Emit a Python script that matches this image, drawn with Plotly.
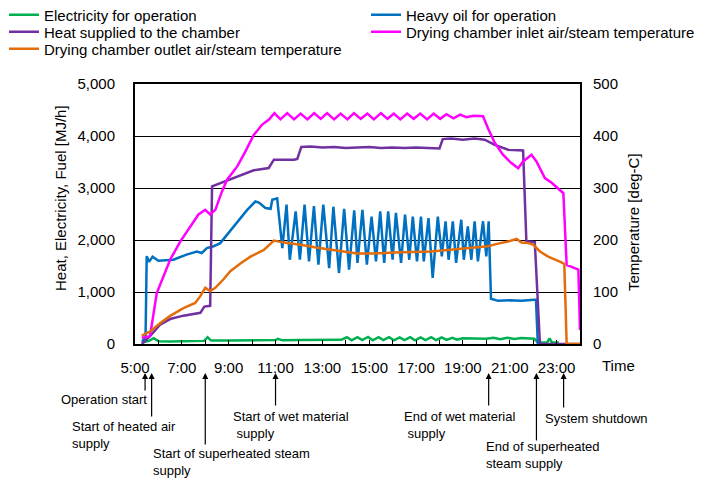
import plotly.graph_objects as go

# ---------------- data (hours of day) ----------------
elec_t = [5.29, 5.6, 5.8, 6.0, 6.5, 7.0, 7.5, 7.95, 8.1, 8.25, 9.0, 10.0, 11.0, 11.1, 11.3,
          12.0, 13.0, 13.8, 14.05, 14.25, 14.5, 14.7, 14.95, 15.15, 15.4, 15.6, 15.85, 16.05,
          16.3, 16.5, 16.75, 16.95, 17.2, 17.4, 17.65, 17.85, 18.1, 18.3, 18.55, 18.75, 19.0,
          19.5, 20.0, 20.3, 20.6, 20.9, 21.2, 21.5, 21.8, 22.05, 22.2, 22.6, 22.7, 22.8, 23.1]
elec_v = [30, 60, 110, 55, 50, 50, 55, 60, 130, 65, 65, 70, 75, 100, 70,
          75, 75, 80, 130, 70, 130, 75, 135, 70, 130, 75, 130, 70,
          125, 75, 130, 70, 125, 75, 130, 75, 125, 80, 120, 85, 110,
          110, 100, 120, 90, 120, 95, 115, 100, 100, 30, 30, 110, 30, 30]

oil_t = [5.30, 5.45, 5.50, 5.60, 5.75, 6.00, 6.64, 7.20, 7.64, 7.85, 8.07, 8.36, 8.64, 8.93,
         9.36, 9.79, 10.14, 10.29, 10.57, 10.79, 10.86, 11.07,
         11.29, 11.47, 11.61, 11.86, 12.04, 12.24, 12.43, 12.64, 12.83, 13.04, 13.29, 13.47,
         13.71, 13.93, 14.14, 14.36, 14.50, 14.71, 14.90, 15.10, 15.29, 15.47, 15.64, 15.81,
         16.00, 16.14, 16.36, 16.53, 16.71, 16.86, 17.04, 17.21, 17.33, 17.53, 17.71, 17.93,
         18.10, 18.26, 18.39, 18.57, 18.71, 18.93, 19.04, 19.21, 19.36, 19.50, 19.64, 19.86,
         20.00, 20.10, 20.20, 20.50, 21.00, 21.50, 22.05, 22.12, 22.20, 22.30]
oil_v = [50, 120, 1690, 1580, 1680, 1600, 1620, 1720, 1780, 1750, 1845, 1880, 1940, 2100,
         2325, 2580, 2740, 2720, 2615, 2600, 2775, 2800,
         1845, 2680, 1620, 2550, 1620, 2680, 1590, 2650, 1525, 2680, 1460, 2640,
         1365, 2600, 1430, 2570, 1560, 2580, 1525, 2450, 1590, 2550, 1560, 2550,
         1620, 2520, 1560, 2490, 1620, 2450, 1590, 2450, 1590, 2420, 1270, 2450,
         1685, 2360, 1620, 2360, 1560, 2390, 1620, 2260, 1620, 2360, 1590, 2360,
         1685, 2360, 870, 830, 840, 830, 850, 850, 0, 0]

heat_t = [5.29, 5.64, 6.07, 6.5, 7.07, 7.79, 7.96, 8.21, 8.29, 8.5, 9.07, 9.64, 10.07, 10.71,
          10.93, 11.79, 11.93, 12.1, 12.5, 13.0, 13.5, 14.0, 14.5, 15.0, 15.5, 16.0, 16.5,
          17.0, 17.5, 18.0, 18.14, 18.5, 19.0, 19.5, 19.93, 20.36, 20.93, 21.57, 21.71, 22.07,
          22.29, 24.0]
heat_v = [0, 150, 370, 480, 545, 600, 720, 735, 3030, 3065, 3170, 3255, 3340, 3385,
          3545, 3545, 3560, 3790, 3800, 3780, 3790, 3770, 3780, 3790, 3770, 3780, 3770,
          3780, 3770, 3760, 3940, 3950, 3930, 3950, 3930, 3830, 3735, 3720, 1975, 1960,
          0, 0]

inlet_t = [5.29, 5.64, 5.93, 6.21, 6.5, 6.93, 7.36, 7.71, 8.0, 8.21, 8.43, 8.71, 8.93, 9.36,
           9.71, 10.07, 10.43, 10.71, 10.95, 11.21, 11.5, 11.79, 12.07, 12.36, 12.65, 12.93,
           13.2, 13.5, 13.78, 14.07, 14.35, 14.64, 14.92, 15.2, 15.5, 15.78, 16.05, 16.33,
           16.62, 16.9, 17.18, 17.47, 17.75, 18.03, 18.3, 18.6, 18.88, 19.15, 19.45, 19.86,
           20.07, 20.36, 20.71, 21.07, 21.36, 21.57, 21.93, 22.14, 22.5, 22.79, 23.29, 23.43,
           23.93, 24.0]
inlet_v = [12, 15, 98, 130, 162, 197, 226, 249, 258, 249, 258, 293, 316, 341,
           370, 402, 422, 431, 444, 432, 444, 432, 443, 432, 444, 433, 444, 432, 443, 432,
           444, 433, 443, 432, 444, 433, 443, 432, 443, 433, 443, 432, 443, 433, 442, 434,
           441, 436, 439, 438,
           415, 387, 364, 348, 338, 351, 364, 351, 319, 310, 290, 152,
           143, 27]

outlet_t = [5.29, 5.64, 6.07, 6.5, 7.07, 7.57, 7.79, 8.0, 8.21, 8.43, 8.79, 9.07, 9.5, 9.93,
            10.5, 10.93, 11.36, 12.07, 12.79, 13.79, 14.5, 15.21, 16.07, 17.64, 18.36, 19.5,
            20.07, 20.5, 20.93, 21.29, 21.5, 21.79, 22.0, 22.29, 22.64, 23.21, 23.33, 23.43,
            24.0]
outlet_v = [16, 24, 40, 54, 69, 79, 92, 108, 102, 108, 125, 140, 155, 168,
            181, 199, 195, 191, 185, 178, 174, 174, 176, 178, 181, 187,
            188, 193, 197, 202, 195, 194, 191, 178, 168, 157, 154, 0,
            0]

series_names = ["Electricity for operation", "Heavy oil for operation",
                "Heat supplied to the chamber", "Drying chamber inlet air/steam temperature",
                "Drying chamber outlet air/steam temperature"]
series_colors = ["#00B050", "#0070C0", "#7030A0", "#FF00FF", "#E46C0A"]

x_tick_vals = [5, 7, 9, 11, 13, 15, 17, 19, 21, 23]
x_tick_labels = ["5:00", "7:00", "9:00", "11:00", "13:00", "15:00", "17:00", "19:00", "21:00", "23:00"]
y_tick_vals = [0, 1000, 2000, 3000, 4000, 5000]
y_tick_labels = ["0", "1,000", "2,000", "3,000", "4,000", "5,000"]
y2_tick_vals = [0, 100, 200, 300, 400, 500]
y2_tick_labels = ["0", "100", "200", "300", "400", "500"]

event_labels = ["Operation start", "Start of heated air<br>supply",
                "Start of superheated steam<br>supply", "Start of wet material<br>\u00a0supply",
                "End of wet material<br>\u00a0supply", "End of superheated<br>steam supply",
                "System shutdown"]
event_times = [5.43, 5.71, 8.0, 11.0, 20.1, 22.14, 23.3]

# ---------------- layout geometry (pixels) ----------------
W, H = 710, 480
L, R, T, B = 135, 580, 84, 344
FONT = "Liberation Sans, Arial, sans-serif"


def px(x):
    return (x - L) / (R - L)


def py(y):
    return (B - y) / (B - T)


fig = go.Figure()
data = [(elec_t, elec_v, "y"), (oil_t, oil_v, "y"), (heat_t, heat_v, "y"),
        (inlet_t, inlet_v, "y2"), (outlet_t, outlet_v, "y2")]
legend_ids = ["legend", "legend2", "legend3", "legend4", "legend5"]
legend_pos = [(4, 15), (366, 15), (4, 32), (366, 32), (4, 49)]
for (t, v, ax), name, col, lg in zip(data, series_names, series_colors, legend_ids):
    assert len(t) == len(v), name
    fig.add_trace(go.Scatter(x=t, y=v, name=name, mode="lines", yaxis=ax, legend=lg,
                             line=dict(color=col, width=2.5)))

legend_layout = {}
for lg, (lx, ly) in zip(legend_ids, legend_pos):
    legend_layout[lg] = dict(x=px(lx), y=py(ly), xanchor="left", yanchor="middle",
                             font=dict(size=15), bgcolor="rgba(0,0,0,0)", borderwidth=0)

fig.update_layout(
    width=W, height=H,
    margin=dict(l=L, r=W - R, t=T, b=H - B, autoexpand=False),
    paper_bgcolor="white", plot_bgcolor="white",
    font=dict(family=FONT, size=15, color="black"),
    showlegend=True,
    xaxis=dict(range=[5, 24], tickvals=x_tick_vals, ticktext=x_tick_labels,
               ticks="inside", ticklen=4, tickcolor="black", tickwidth=1,
               minor=dict(dtick=1, tick0=5, ticks="inside", ticklen=4, tickcolor="black"),
               showline=True, linecolor="black", linewidth=2, mirror=True,
               showgrid=False, zeroline=False, tickfont=dict(size=15),
               ticklabelstandoff=9),
    yaxis=dict(range=[0, 5000], tickvals=y_tick_vals, ticktext=y_tick_labels,
               showgrid=True, gridcolor="black", gridwidth=1,
               showline=True, linecolor="black", linewidth=2, mirror=True,
               zeroline=False, ticks="", tickfont=dict(size=15), ticklabelstandoff=15),
    yaxis2=dict(range=[0, 500], tickvals=y2_tick_vals, ticktext=y2_tick_labels,
                overlaying="y", side="right", showgrid=False, showline=False,
                zeroline=False, ticks="", tickfont=dict(size=15), ticklabelstandoff=12),
    **legend_layout,
)

ann = []
# axis titles
ann.append(dict(text="Heat, Electricity, Fuel [MJ/h]", xref="paper", yref="paper",
                x=px(60), y=py(198), textangle=-90, showarrow=False,
                xanchor="center", yanchor="middle", font=dict(size=15)))
ann.append(dict(text="Temperature [deg-C]", xref="paper", yref="paper",
                x=px(633), y=py(222), textangle=-90, showarrow=False,
                xanchor="center", yanchor="middle", font=dict(size=15)))
ann.append(dict(text="Time", xref="paper", yref="paper", x=px(600), y=py(365),
                showarrow=False, xanchor="left", yanchor="middle", font=dict(size=15)))

# event arrows and texts
head_y = 373
tail_y = [392, 418, 446, 407, 407, 442, 409]
text_pos = [(59, 399), (70, 435), (151, 462), (231, 425), (402, 425), (484, 455), (543, 419)]
for lab, tt, ty, (tx, tyc) in zip(event_labels, event_times, tail_y, text_pos):
    ann.append(dict(x=tt, y=py(head_y), xref="x", yref="paper", text="", showarrow=True,
                    ax=0, ay=ty - head_y, axref="pixel", ayref="pixel",
                    arrowhead=2, arrowsize=1, arrowwidth=1.2, arrowcolor="black"))
    ann.append(dict(text=lab, xref="paper", yref="paper", x=px(tx), y=py(tyc),
                    showarrow=False, xanchor="left", yanchor="middle", align="left",
                    font=dict(size=13)))
fig.update_layout(annotations=ann)

fig.write_html("out.html", config={"displayModeBar": False},
               post_script="document.body.style.margin='0px';")
